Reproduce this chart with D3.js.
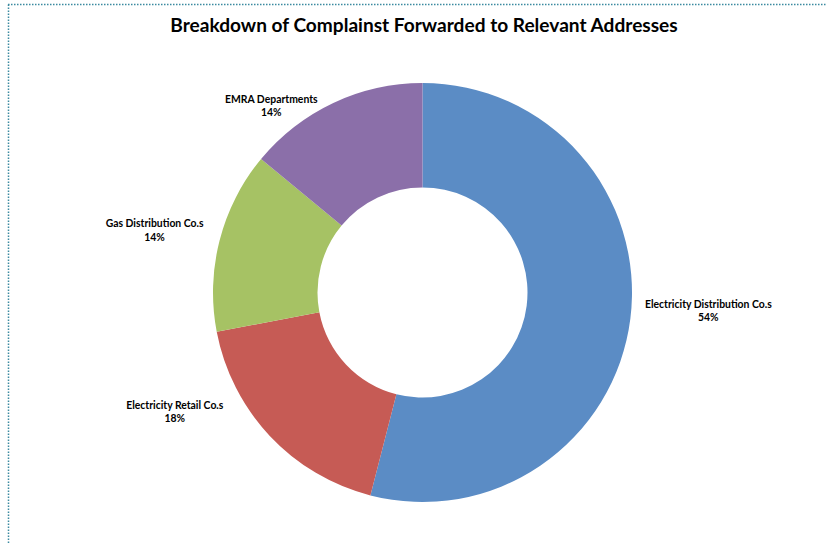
<!DOCTYPE html>
<html>
<head>
<meta charset="utf-8">
<script src="https://cdn.jsdelivr.net/npm/d3@7"></script>
<style>
  html, body { margin: 0; padding: 0; background: #fff; }
  svg { display: block; }
</style>
</head>
<body>
<svg id="chart" width="827" height="544"></svg>
<script>
// Complaint routing breakdown
const categories = ["Electricity Distribution Co.s", "Electricity Retail Co.s", "Gas Distribution Co.s", "EMRA Departments"];
const shares = [54, 18, 14, 14];
const sliceColors = ["#5B8CC5", "#C65B55", "#A6C264", "#8B6FA9"];
const chartTitle = "Breakdown of Complainst Forwarded to Relevant Addresses";

// Label nudges from the outer edge at each slice's mid-angle: [dx to block centre, dy to first baseline]
const labelNudge = [[78, -11], [-95, -27], [-65, -13], [-62, 0]];

const W = 827, H = 544;
const cx = 422.5, cy = 292.5, outerR = 209.5, innerR = 105;
const svg = d3.select("#chart");

// Dotted frame (left and top edges visible)
svg.append("line").attr("x1", 8.5).attr("y1", 4.5).attr("x2", 8.5).attr("y2", H)
  .attr("stroke", "#3B8AA0").attr("stroke-width", 1.5).attr("stroke-dasharray", "1.5,1.5");
svg.append("line").attr("x1", 8).attr("y1", 4.5).attr("x2", W).attr("y2", 4.5)
  .attr("stroke", "#3B8AA0").attr("stroke-width", 1.5).attr("stroke-dasharray", "1.5,1.5");

svg.append("text")
  .attr("x", 424).attr("y", 31.5)
  .attr("text-anchor", "middle")
  .attr("font-family", "Lato, 'Open Sans', sans-serif")
  .attr("font-weight", "bold")
  .attr("font-size", 19.1)
  .attr("fill", "#000")
  .text(chartTitle);

const data = categories.map((c, i) => ({ name: c, value: shares[i], color: sliceColors[i], nudge: labelNudge[i] }));
const pie = d3.pie().value(d => d.value).sort(null);
const arcs = pie(data);
const arc = d3.arc().innerRadius(innerR).outerRadius(outerR);

const g = svg.append("g").attr("transform", `translate(${cx},${cy})`);
g.selectAll("path.slice").data(arcs).join("path")
  .attr("class", "slice")
  .attr("d", arc)
  .attr("fill", d => d.data.color);

const total = d3.sum(shares);
const labels = g.selectAll("g.lbl").data(arcs).join("g").attr("class", "lbl")
  .attr("transform", d => {
    const a = (d.startAngle + d.endAngle) / 2;
    const x = outerR * Math.sin(a) + d.data.nudge[0];
    const y = -outerR * Math.cos(a) + d.data.nudge[1];
    return `translate(${x},${y})`;
  });
labels.append("text")
  .attr("text-anchor", "middle")
  .attr("font-family", "Lato, 'Open Sans', sans-serif")
  .attr("font-weight", "bold")
  .attr("font-size", 10.4)
  .attr("fill", "#000")
  .call(t => {
    t.append("tspan").attr("x", 0).attr("y", 0).text(d => d.data.name);
    t.append("tspan").attr("x", 0).attr("y", 13.5).text(d => Math.round(d.data.value / total * 100) + "%");
  });
</script>
</body>
</html>
